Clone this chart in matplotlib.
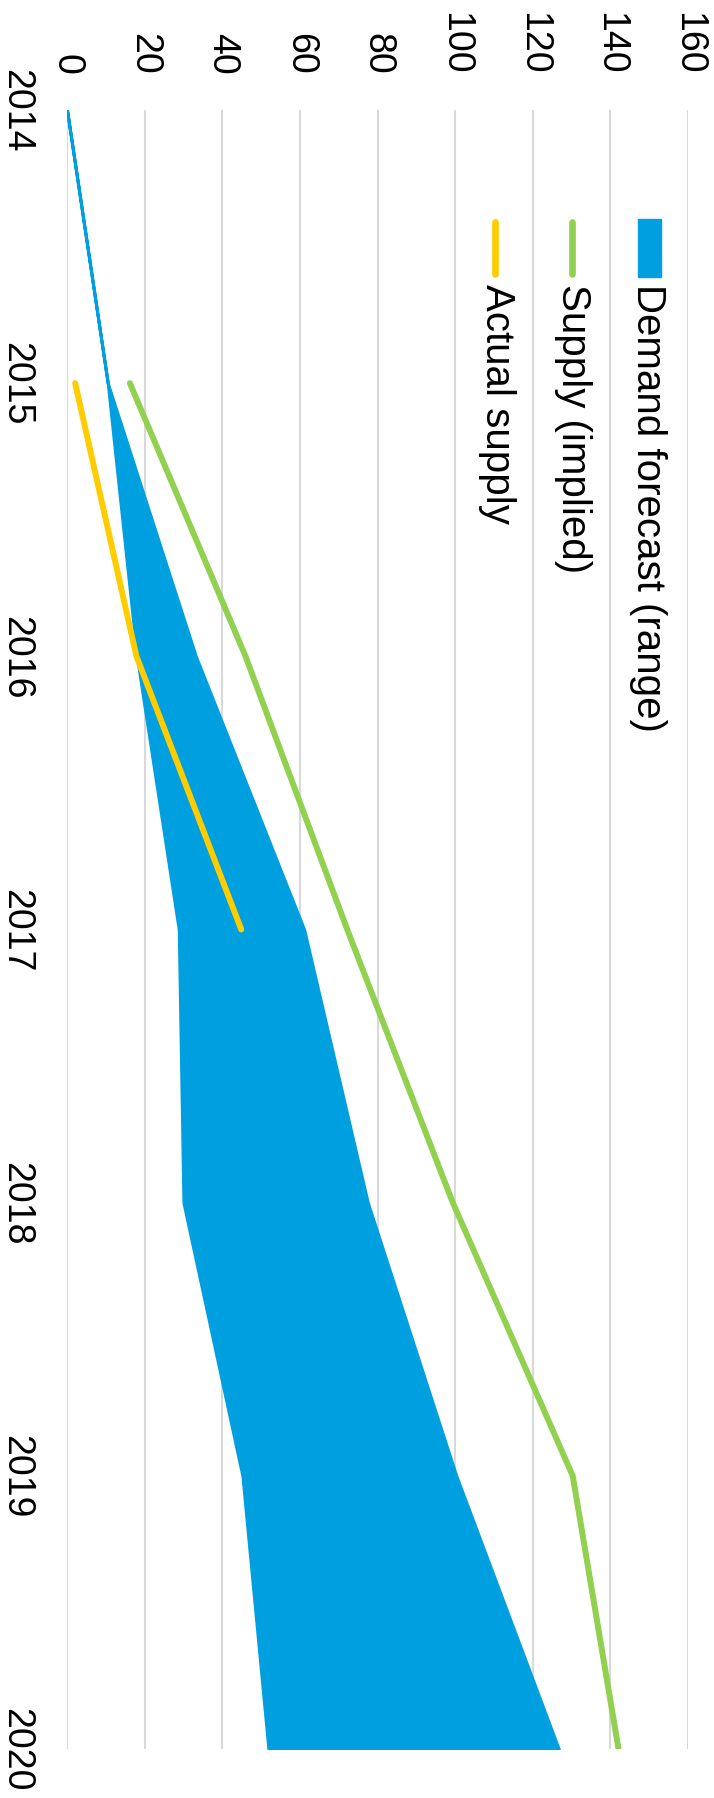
import matplotlib
matplotlib.use("Agg")
import matplotlib.pyplot as plt
from matplotlib.patches import Rectangle
from matplotlib.lines import Line2D

years = [2014, 2015, 2016, 2017, 2018, 2019, 2020]
demand_low = [0, 10.5, 18, 28.8, 30, 45.2, 51.9]
demand_high = [0, 10.5, 33.2, 61.1, 77.5, 100.3, 126.7]
supply_years = [2015, 2016, 2017, 2018, 2019, 2020]
supply_implied = [16.2, 46, 72.2, 99.4, 130.3, 142.1]
actual_years = [2015, 2016, 2017]
actual_supply = [2.1, 17.9, 44.9]
value_ticks = [0, 20, 40, 60, 80, 100, 120, 140, 160]
legend_labels = ["Demand forecast (range)", "Supply (implied)", "Actual supply"]

blue = "#009FDF"
green = "#92D050"
yellow = "#FFCC00"

plt.rcParams['font.family'] = ['Liberation Sans', 'DejaVu Sans']

W, H = 714, 1799
fig = plt.figure(figsize=(W / 100, H / 100), dpi=100)
ax = fig.add_axes([67 / W, 1 - 1750 / H, (688 - 67) / W, (1750 - 111) / H])

# chart is drawn rotated: years run down, values run right
ax.fill_betweenx(years, demand_low, demand_high, color=blue, edgecolor=blue, linewidth=2.2, zorder=2)
ax.plot(supply_implied, supply_years, color=green, lw=4.3, solid_capstyle='round', zorder=3)
ax.plot(actual_supply, actual_years, color=yellow, lw=4.3, solid_capstyle='round', zorder=4)

ax.set_xlim(0, 160)
ax.set_ylim(2020, 2014)
ax.set_xticks(value_ticks)
ax.set_yticks(years)
ax.set_yticklabels([str(y) for y in years], rotation=-90, va='center', fontsize=27)
ax.set_xticklabels([str(v) for v in value_ticks], rotation=-90, ha='center', fontsize=27)
ax.xaxis.tick_top()
ax.tick_params(axis='x', length=0, pad=26)
ax.tick_params(axis='y', length=0, pad=24)
ax.grid(axis='x', color='#d9d9d9', lw=1.5, zorder=0)
ax.set_axisbelow(True)
for s in ax.spines.values():
    s.set_visible(False)

# legend, rotated by hand
def fx(px):
    return px / W

def fy(py):
    return 1 - py / H

fig.add_artist(Rectangle((fx(638), fy(278)), fx(23), 58 / H, transform=fig.transFigure,
                         color=blue))
fig.add_artist(Line2D([fx(572), fx(572)], [fy(223), fy(275)], transform=fig.transFigure,
                      color=green, lw=4.8, solid_capstyle='round'))
fig.add_artist(Line2D([fx(495), fx(495)], [fy(223), fy(275)], transform=fig.transFigure,
                      color=yellow, lw=4.8, solid_capstyle='round'))
for xpos, lab in zip([648, 573, 497], legend_labels):
    fig.text(fx(xpos), fy(284), lab, rotation=-90, ha='center', va='top', fontsize=29)

fig.savefig("out.png", dpi=100)
